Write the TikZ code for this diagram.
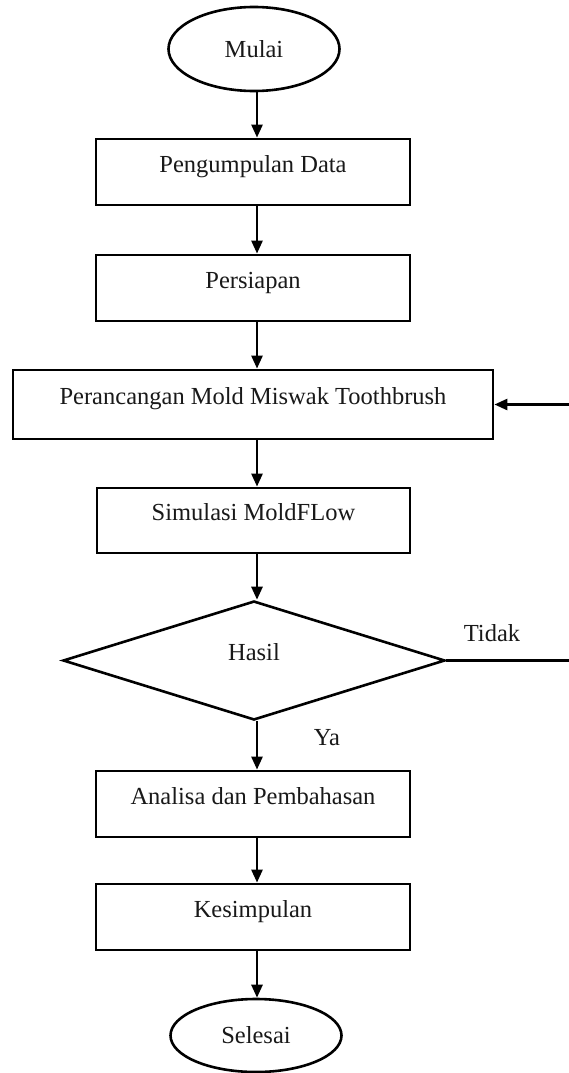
\documentclass[tikz,border=0pt]{standalone}
\usepackage{fontspec}
\setmainfont{Liberation Serif}
\usetikzlibrary{shapes.geometric,arrows.meta}
\begin{document}
\begin{tikzpicture}[x=1pt,y=-1pt,
  every node/.style={font=\fontsize{24.5}{28}\selectfont, text=black!90},
  proc/.style={draw=black, line width=2.8pt, rectangle, inner sep=0pt, text height=17pt, text depth=17pt},
  term/.style={draw=black, line width=2.6pt, ellipse, inner sep=0pt, minimum width=171pt},
  decide/.style={draw=black, line width=2.6pt, diamond, inner sep=0pt, minimum width=382pt, minimum height=119pt, text height=17pt, text depth=17pt},
  arr/.style={draw=black, line width=2.6pt, -{Triangle[length=13pt,width=11pt]}},
  lbl/.style={inner sep=0pt}]
\useasboundingbox (0,0) rectangle (569,1073);
\fill[white] (0,0) rectangle (569,1073);
\coordinate (ax) at (257,0);
\node[term, minimum height=84pt] (mu) at (254,49) {Mulai};
\node[proc, minimum width=314pt, minimum height=66pt] (pd) at (253,172) {Pengumpulan Data};
\node[proc, minimum width=314pt, minimum height=66pt] (ps) at (253,288) {Persiapan};
\node[proc, minimum width=480pt, minimum height=69pt] (pr) at (253,404.5) {Perancangan Mold Miswak Toothbrush};
\node[proc, minimum width=313pt, minimum height=65pt] (sm) at (253.5,520.5) {Simulasi MoldFLow};
\node[decide] (hs) at (254,660.5) {Hasil};
\node[proc, minimum width=314pt, minimum height=66pt] (an) at (253,804) {Analisa dan Pembahasan};
\node[proc, minimum width=314pt, minimum height=66pt] (ks) at (253,917) {Kesimpulan};
\node[term, minimum height=73pt] (se) at (256,1035.5) {Selesai};
\node[lbl] (tidak) at (492,633) {Tidak};
\node[lbl] (ya) at (327,738) {Ya};
\coordinate (loopB) at (573,660.5);
\coordinate (loopT) at (573,404.5);
\draw[arr] (mu.south -| ax) -- (pd.north -| ax);
\draw[arr] (pd.south -| ax) -- (ps.north -| ax);
\draw[arr] (ps.south -| ax) -- (pr.north -| ax);
\draw[arr] (pr.south -| ax) -- (sm.north -| ax);
\draw[arr] (sm.south -| ax) -- (hs.north -| ax);
\draw[arr] (hs.south -| ax) -- (an.north -| ax);
\draw[arr] (an.south -| ax) -- (ks.north -| ax);
\draw[arr] (ks.south -| ax) -- (se.north -| ax);
\draw[arr] (hs.east) -- (loopB) -- (loopT) -- (pr.east);
\end{tikzpicture}
\end{document}
